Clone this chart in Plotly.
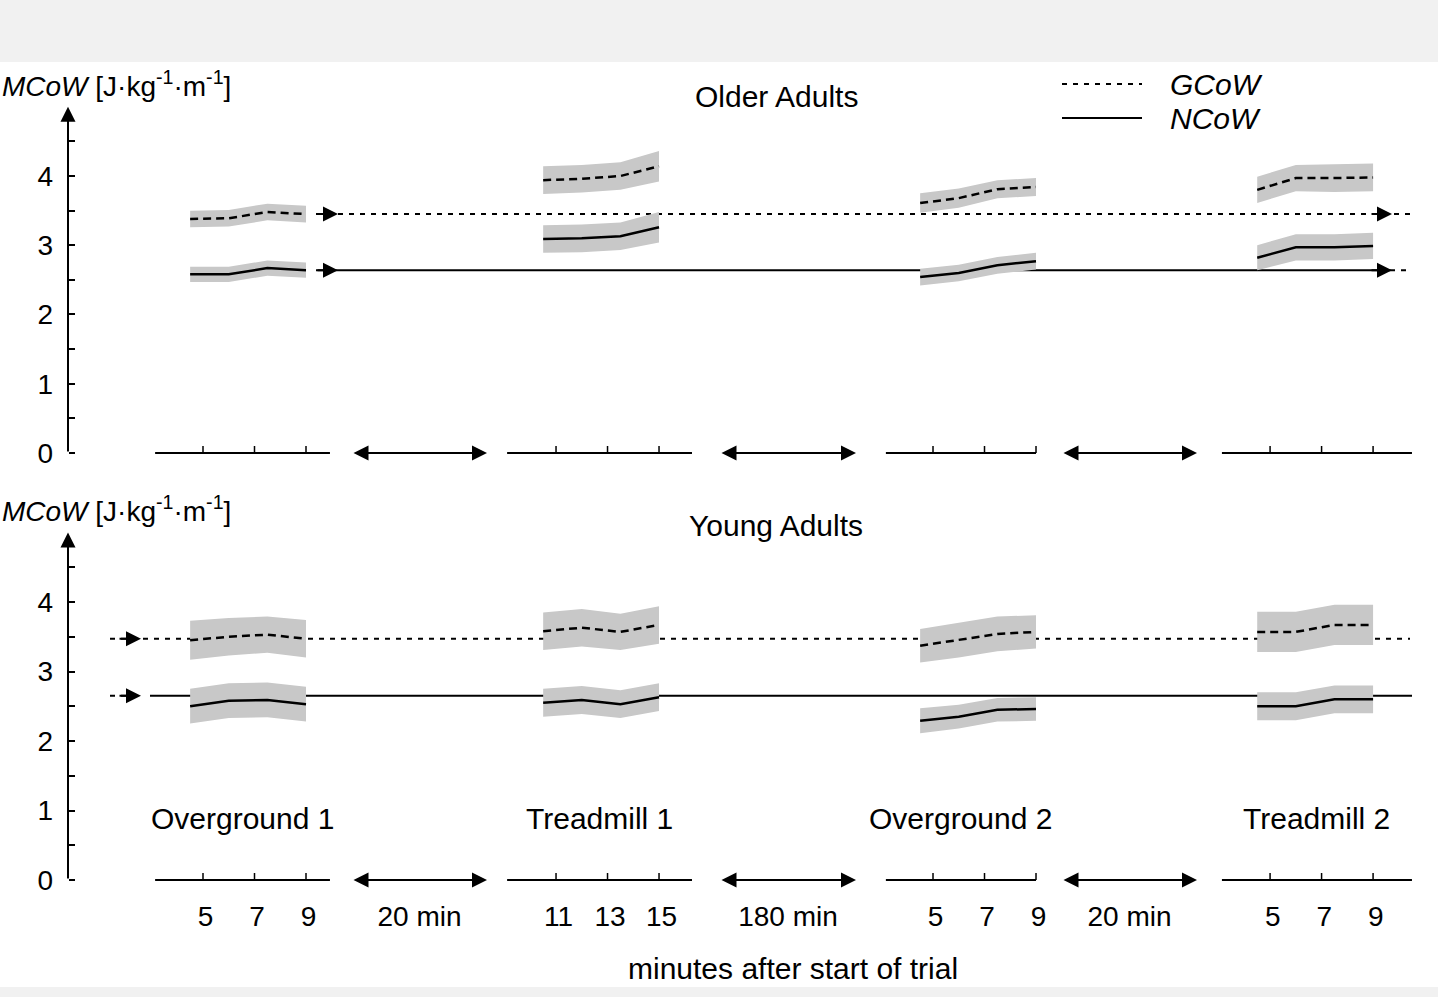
import plotly.graph_objects as go

# ---------------- data ----------------
blocks = ["Overground 1", "Treadmill 1", "Overground 2", "Treadmill 2"]
block_minutes = [[4.5, 6, 7.5, 9], [10.5, 12, 13.5, 15], [4.5, 6, 7.5, 9], [4.5, 6, 7.5, 9]]
tick_minutes = [[5, 7, 9], [11, 13, 15], [5, 7, 9], [5, 7, 9]]
gap_labels = ["20 min", "180 min", "20 min"]

older_gcow = [[3.38, 3.39, 3.48, 3.45], [3.94, 3.96, 4.00, 4.14],
              [3.61, 3.68, 3.81, 3.84], [3.80, 3.97, 3.97, 3.98]]
older_gcow_sd = [[0.12, 0.12, 0.12, 0.12], [0.20, 0.20, 0.20, 0.22],
                 [0.14, 0.14, 0.13, 0.13], [0.19, 0.19, 0.20, 0.20]]
older_ncow = [[2.58, 2.58, 2.67, 2.64], [3.09, 3.10, 3.13, 3.26],
              [2.54, 2.60, 2.71, 2.77], [2.82, 2.97, 2.97, 2.99]]
older_ncow_sd = [[0.11, 0.11, 0.11, 0.11], [0.20, 0.20, 0.20, 0.22],
                 [0.12, 0.12, 0.12, 0.12], [0.18, 0.19, 0.19, 0.19]]

young_gcow = [[3.45, 3.50, 3.53, 3.47], [3.58, 3.63, 3.57, 3.67],
              [3.37, 3.45, 3.54, 3.57], [3.57, 3.57, 3.67, 3.67]]
young_gcow_sd = [[0.28, 0.27, 0.26, 0.27], [0.27, 0.27, 0.26, 0.27],
                 [0.24, 0.25, 0.25, 0.24], [0.29, 0.29, 0.29, 0.29]]
young_ncow = [[2.50, 2.58, 2.59, 2.53], [2.55, 2.59, 2.53, 2.63],
              [2.29, 2.35, 2.45, 2.46], [2.50, 2.50, 2.60, 2.60]]
young_ncow_sd = [[0.25, 0.25, 0.25, 0.25], [0.20, 0.20, 0.20, 0.20],
                 [0.18, 0.17, 0.17, 0.17], [0.20, 0.20, 0.20, 0.20]]

older_ref = {"GCoW": 3.45, "NCoW": 2.64}
young_ref = {"GCoW": 3.47, "NCoW": 2.65}

y_tick_vals = [0, 1, 2, 3, 4]
y_minor_vals = [0.5, 1.5, 2.5, 3.5, 4.5]

# ---------------- layout constants ----------------
W, H = 1438, 997
FONT = "Liberation Sans, Arial, sans-serif"
FS = 28
FS_TXT = 30
BAND = "rgb(200,200,200)"
MEAN_DASH = "8px,5px"
REF_DASH = "5px,6px"
ASIZE = 1.5

X0_PX = 74.25          # pixel position of display-minute 0
PPM = 25.75            # pixels per minute
def px_x(px):
    return (px - X0_PX) / PPM
X_RANGE = [px_x(0), px_x(W)]

block_offset = [0.0, 7.71, 28.35, 41.44]
baseline_local = [[3.14, 9.93], [9.1, 16.28], [3.17, 9.0], [3.13, 10.51]]
gap_px = [[352, 487], [720, 856], [1062, 1197]]
AXIS_PX = 68

# panel pixel anchors (zero pixel, pixels per unit, value range)
panels = {
    "top": dict(zero=453, ppu=69.25, rng=[-0.6, 5.3]),
    "bot": dict(zero=880, ppu=69.5, rng=[-0.25, 5.3]),
}
def domain(p):
    lo = p["zero"] - p["ppu"] * p["rng"][0]
    hi = p["zero"] - p["ppu"] * p["rng"][1]
    return [1 - lo / H, 1 - hi / H]

fig = go.Figure()

def add_group(means, sds, xa, ya, dash):
    for b in range(4):
        xs = [m + block_offset[b] for m in block_minutes[b]]
        up = [m + s for m, s in zip(means[b], sds[b])]
        lo = [m - s for m, s in zip(means[b], sds[b])]
        fig.add_trace(go.Scatter(x=xs + xs[::-1], y=up + lo[::-1], fill="toself",
                                 fillcolor=BAND, line=dict(width=0), mode="lines",
                                 xaxis=xa, yaxis=ya, showlegend=False, hoverinfo="skip"))
    for b in range(4):
        xs = [m + block_offset[b] for m in block_minutes[b]]
        fig.add_trace(go.Scatter(x=xs, y=means[b], mode="lines",
                                 line=dict(color="black", width=2.5, dash=dash),
                                 xaxis=xa, yaxis=ya, showlegend=False))

def ref_line(x0, x1, v, xa, ya, dash):
    fig.add_trace(go.Scatter(x=[x0, x1], y=[v, v], mode="lines",
                             line=dict(color="black", width=2, dash=dash),
                             xaxis=xa, yaxis=ya, showlegend=False, hoverinfo="skip"))

annotations = []
def arrow(x_tip, y_tip, x_tail, y_tail, xref, yref, both=False, width=2, size=ASIZE):
    a = dict(x=x_tip, y=y_tip, ax=x_tail, ay=y_tail, xref=xref, yref=yref,
             axref=xref, ayref=yref, text="", showarrow=True, arrowhead=2,
             arrowsize=size, arrowwidth=width, arrowcolor="black", standoff=0)
    if both:
        a.update(arrowside="end+start", startarrowhead=2, startarrowsize=size, startstandoff=0)
    annotations.append(a)

# Older adults (top panel)
ref_line(px_x(316), px_x(1412), older_ref["GCoW"], "x", "y", REF_DASH)
ref_line(px_x(316), px_x(1390), older_ref["NCoW"], "x", "y", "solid")
ref_line(px_x(1390), px_x(1412), older_ref["NCoW"], "x", "y", REF_DASH)
add_group(older_gcow, older_gcow_sd, "x", "y", MEAN_DASH)
add_group(older_ncow, older_ncow_sd, "x", "y", "solid")
for v in older_ref.values():
    arrow(px_x(338), v, px_x(316), v, "x", "y")
    arrow(px_x(1392), v, px_x(1370), v, "x", "y")

# Young adults (bottom panel)
ref_line(px_x(110), px_x(1410), young_ref["GCoW"], "x2", "y2", REF_DASH)
ref_line(px_x(110), px_x(140), young_ref["NCoW"], "x2", "y2", REF_DASH)
ref_line(px_x(150), px_x(1412), young_ref["NCoW"], "x2", "y2", "solid")
add_group(young_gcow, young_gcow_sd, "x2", "y2", MEAN_DASH)
add_group(young_ncow, young_ncow_sd, "x2", "y2", "solid")
for v in young_ref.values():
    arrow(px_x(141), v, px_x(118), v, "x2", "y2")

shapes = []
# gray page bands
shapes.append(dict(type="rect", xref="paper", yref="paper", x0=0, x1=1, y0=1 - 62 / H, y1=1,
                   fillcolor="#f1f1f1", line=dict(width=0), layer="below"))
shapes.append(dict(type="rect", xref="paper", yref="paper", x0=0, x1=1, y0=0, y1=1 - 987 / H,
                   fillcolor="#f1f1f1", line=dict(width=0), layer="below"))

for xa, ya in (("x", "y"), ("x2", "y2")):
    # y-axis line with arrow
    arrow(px_x(AXIS_PX), 5.0, px_x(AXIS_PX), 0, xa, ya, width=2)
    # block baselines with ticks
    for b in range(4):
        x0, x1 = [v + block_offset[b] for v in baseline_local[b]]
        shapes.append(dict(type="line", xref=xa, yref=ya, x0=x0, x1=x1, y0=0, y1=0,
                           line=dict(color="black", width=2)))
        for t in tick_minutes[b]:
            xt = t + block_offset[b]
            shapes.append(dict(type="line", xref=xa, yref=ya, x0=xt, x1=xt, y0=0, y1=0.1,
                               line=dict(color="black", width=1.5)))
    # gap arrows
    for g0, g1 in gap_px:
        arrow(px_x(g1), 0, px_x(g0), 0, xa, ya, both=True, width=2)

# block labels in bottom panel
for b, name in enumerate(blocks):
    x0, x1 = [v + block_offset[b] for v in baseline_local[b]]
    annotations.append(dict(x=(x0 + x1) / 2, y=0.89, xref="x2", yref="y2", text=name,
                            xanchor="center", yanchor="middle", showarrow=False,
                            font=dict(size=FS_TXT, family=FONT, color="black")))

# bottom tick labels
tickvals, ticktext = [], []
for b in range(4):
    for t in tick_minutes[b]:
        tickvals.append(t + block_offset[b] + 0.1)
        ticktext.append(str(t))
    if b < 3:
        g0, g1 = gap_px[b]
        tickvals.append(px_x((g0 + g1) / 2))
        ticktext.append(gap_labels[b])

ylabel = "<i>MCoW</i> [J·kg<sup>-1</sup>·m<sup>-1</sup>]"
for ypx in (84, 509):
    annotations.append(dict(x=0, y=1 - ypx / H, xref="paper", yref="paper", text=ylabel,
                            xanchor="left", yanchor="middle", showarrow=False,
                            font=dict(size=FS, family=FONT, color="black")))
for txt, ypx in (("Older Adults", 96), ("Young Adults", 525)):
    annotations.append(dict(x=776 / W, y=1 - ypx / H, xref="paper", yref="paper", text=txt,
                            xanchor="center", yanchor="middle", showarrow=False,
                            font=dict(size=FS_TXT, family=FONT, color="black")))
annotations.append(dict(x=793 / W, y=1 - 968 / H, xref="paper", yref="paper",
                        text="minutes after start of trial", xanchor="center", yanchor="middle",
                        showarrow=False, font=dict(size=FS_TXT, family=FONT, color="black")))

# legend (manual)
for name, ypx, dash in (("GCoW", 84, REF_DASH), ("NCoW", 118, "solid")):
    shapes.append(dict(type="line", xref="paper", yref="paper", x0=1062 / W, x1=1142 / W,
                       y0=1 - ypx / H, y1=1 - ypx / H,
                       line=dict(color="black", width=2, dash=dash)))
    annotations.append(dict(x=1168 / W, y=1 - ypx / H, xref="paper", yref="paper",
                            text="<i>%s</i>" % name, xanchor="left", yanchor="middle",
                            showarrow=False, font=dict(size=FS_TXT, family=FONT, color="black")))

yax = dict(anchor="free", position=AXIS_PX / W, showline=False, showgrid=False, zeroline=False,
           tickvals=y_tick_vals, ticks="inside", ticklen=6, tickwidth=2, tickcolor="black",
           minor=dict(tickvals=y_minor_vals, ticks="inside", ticklen=6, tickwidth=2, tickcolor="black"),
           tickfont=dict(size=FS, family=FONT, color="black"), ticklabelstandoff=15)

fig.update_layout(
    width=W, height=H, margin=dict(l=0, r=0, t=0, b=0),
    paper_bgcolor="white", plot_bgcolor="rgba(0,0,0,0)",
    xaxis=dict(domain=[0, 1], range=X_RANGE, anchor="y", visible=False),
    xaxis2=dict(domain=[0, 1], range=X_RANGE, anchor="y2", matches="x", showline=False,
                showgrid=False, zeroline=False, ticks="", tickvals=tickvals, ticktext=ticktext,
                tickfont=dict(size=FS, family=FONT, color="black")),
    yaxis=dict(domain=domain(panels["top"]), range=panels["top"]["rng"], **yax),
    yaxis2=dict(domain=domain(panels["bot"]), range=panels["bot"]["rng"], **yax),
    shapes=shapes, annotations=annotations, font=dict(family=FONT, color="black"),
)

fig.write_html("out.html", config={"displayModeBar": False},
               post_script="document.body.style.margin='0px';document.body.style.padding='0px';"
                           "document.documentElement.style.overflow='hidden';")
